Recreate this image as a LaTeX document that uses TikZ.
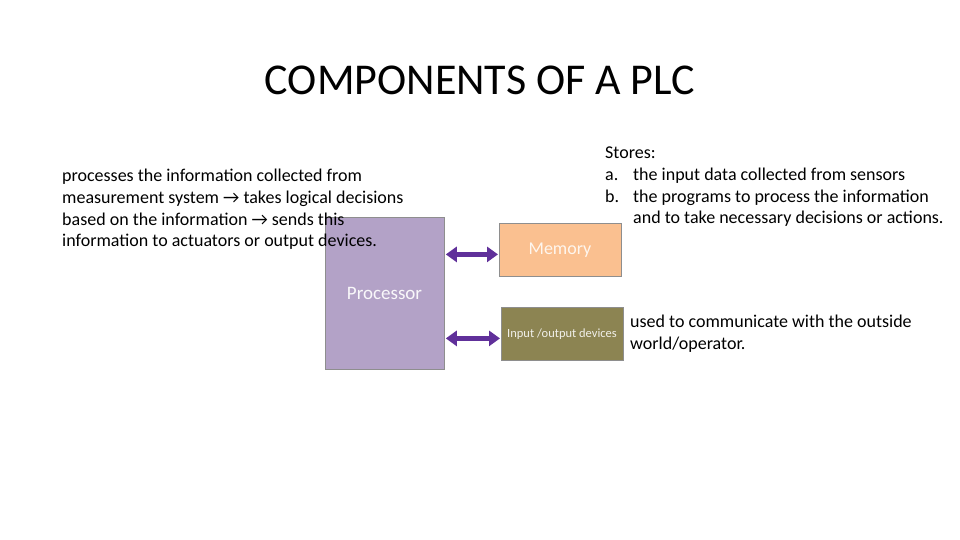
\documentclass[tikz,border=0pt]{standalone}
\usepackage{fontspec}
\setmainfont{Carlito}
\usetikzlibrary{positioning,arrows.meta}

\definecolor{procfill}{HTML}{B3A2C7}
\definecolor{memfill}{HTML}{FAC090}
\definecolor{iofill}{HTML}{8C8452}
\definecolor{boxline}{HTML}{8E8E8E}
\definecolor{linkcol}{HTML}{60309A}

\tikzset{
  unit/.style={draw=boxline, line width=0.8pt, inner sep=0pt, anchor=north west},
  link/.style={linkcol, line width=5pt, {Triangle[length=11pt,width=15pt]}-{Triangle[length=11pt,width=15pt]}, shorten <=1pt, shorten >=1pt},
  note/.style={align=left, anchor=north west, inner sep=0pt, font=\fontsize{18}{21.7}\selectfont}
}

\begin{document}
\begin{tikzpicture}[x=1pt, y=-1pt]
\useasboundingbox (0,0) rectangle (960,540);

% Title
\node (title) at (480,80) {\fontsize{44}{48}\selectfont COMPONENTS OF A PLC};

% Blocks
\node[unit, fill=procfill, minimum width=119pt, minimum height=152pt] (proc) at (325,217) {};
\node[text=white!92!procfill, font=\fontsize{19}{21}\selectfont] (proclab) at (384.5,293) {Processor};
\node[unit, fill=memfill, minimum width=122pt, minimum height=53pt] (mem) at (499,223) {};
\node[text=white!85!memfill, font=\fontsize{18}{20}\selectfont] (memlab) at (560,250) {Memory};
\node[unit, fill=iofill, minimum width=122pt, minimum height=53pt] (io) at (501,307) {};
\node[text=white!88!iofill, font=\fontsize{12.5}{14}\selectfont] (iolab) at (562,334) {Input /output devices};

% Connections
\draw[link] ([yshift=-4.5pt]proc.east |- mem.west) -- ([yshift=-4.5pt]mem.west);
\draw[link] ([yshift=-4.5pt]proc.east |- io.west) -- ([yshift=-4.5pt]io.west);

% Descriptions
\node[note] (procnote) at (62,169) {processes the information collected from\\
  measurement system → takes logical decisions\\
  based on the information → sends this\\
  information to actuators or output devices.};
\node[note] (memnote) at (605,147) {Stores:\\
  \makebox[28pt][l]{a.}the input data collected from sensors\\
  \makebox[28pt][l]{b.}the programs to process the information\\
  \hspace*{28pt}and to take necessary decisions or actions.};
\node[note] (ionote) at (630,315) {used to communicate with the outside\\
  world/operator.};
\end{tikzpicture}
\end{document}
